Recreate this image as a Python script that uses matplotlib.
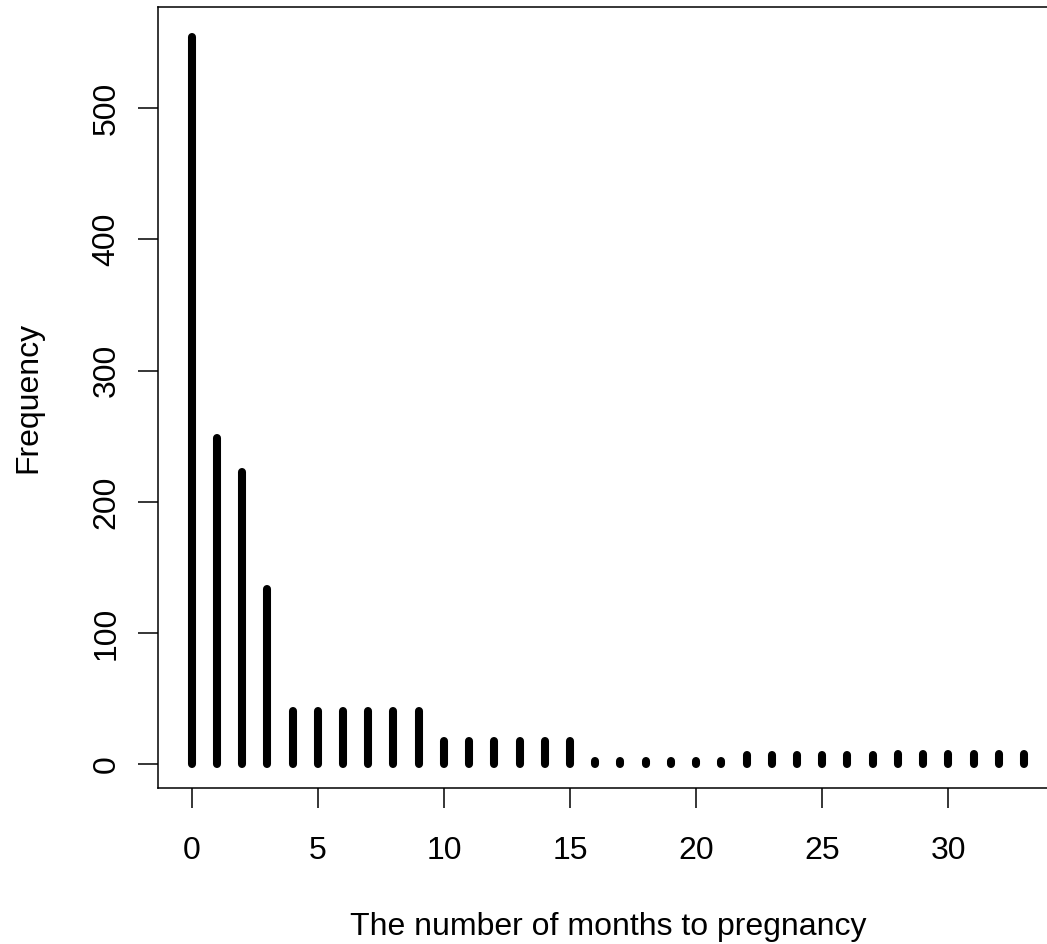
import numpy as np
import matplotlib
matplotlib.use("Agg")
import matplotlib.pyplot as plt

# months to pregnancy and how often each occurred
months = list(range(34))
freq = [554, 249, 223, 134,
        41, 41, 41, 41, 41, 41,
        18, 18, 18, 18, 18, 18,
        3, 3, 3, 3, 3, 3,
        7, 7, 7, 7, 7, 7,
        8, 8, 8, 8, 8, 8]
xticks = [0, 5, 10, 15, 20, 25, 30]
yticks = [0, 100, 200, 300, 400, 500]

plt.rcParams['font.family'] = ['Liberation Sans', 'DejaVu Sans']

fig = plt.figure(figsize=(10.47, 9.44), dpi=100)
ax = fig.add_axes([0.1513, 0.1653, 0.8585, 0.8268])

ax.vlines(months, 0, freq, colors='black', linewidth=5.8, capstyle='round')

ax.set_xlim(-1.32, 34.32)
ax.set_ylim(-17.9, 576.8)
ax.set_xticks(xticks)
ax.set_yticks(yticks)
ax.tick_params(axis='both', length=14.4, width=1.1, labelsize=23, direction='out')
ax.tick_params(axis='x', pad=20)
ax.tick_params(axis='y', pad=12)
for lab in ax.get_yticklabels():
    lab.set_rotation(90)
    lab.set_va('center')

for sp in ax.spines.values():
    sp.set_linewidth(1.1)

ax.set_xlabel("The number of months to pregnancy", fontsize=23)
ax.xaxis.set_label_coords(0.5, -0.159)
ax.set_ylabel("Frequency", fontsize=23, va='center')
ax.yaxis.set_label_coords(-0.145, 0.5)

fig.savefig("out.png", dpi=100)
